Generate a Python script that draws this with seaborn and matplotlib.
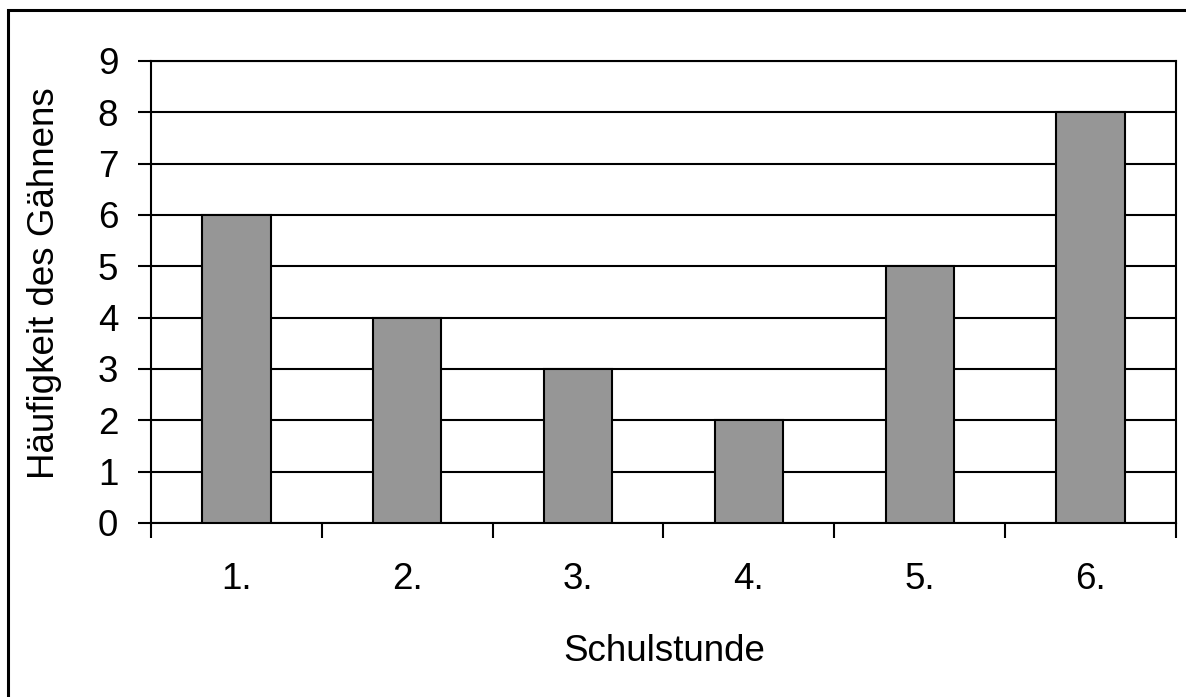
import matplotlib
matplotlib.use("Agg")
import matplotlib.pyplot as plt
import seaborn as sns
import pandas as pd
from matplotlib.patches import Rectangle

categories = ["1.", "2.", "3.", "4.", "5.", "6."]
values = [6, 4, 3, 2, 5, 8]
y_ticks = [0, 1, 2, 3, 4, 5, 6, 7, 8, 9]

sns.set_style("white")
plt.rcParams['font.family'] = ['Liberation Sans', 'DejaVu Sans']
plt.rcParams['text.color'] = 'black'
plt.rcParams['xtick.color'] = 'black'
plt.rcParams['ytick.color'] = 'black'
plt.rcParams['xtick.labelcolor'] = 'black'
plt.rcParams['ytick.labelcolor'] = 'black'

FS = 26.5

df = pd.DataFrame({"Schulstunde": categories, "Wert": values})

fig = plt.figure(figsize=(11.86, 6.97), dpi=100)
W, H = 1186, 697
ax = fig.add_axes([151 / W, 1 - 523 / H, (1176 - 151) / W, (523 - 61) / H])

ax.set_axisbelow(True)
ax.yaxis.grid(True, color="black", linewidth=1.5)
sns.barplot(data=df, x="Schulstunde", y="Wert", ax=ax, color="#969696",
            saturation=1, width=0.4, edgecolor="black", linewidth=1.5, zorder=3)

ax.set_xlim(-0.5, len(categories) - 0.5)
ax.set_ylim(0, 9)
ax.set_yticks(y_ticks)
ax.set_yticklabels([str(t) for t in y_ticks])
ax.set_xlabel("")
ax.set_ylabel("")

ax.set_xticks(range(len(categories)))
ax.set_xticklabels(categories)
ax.set_xticks([i - 0.5 for i in range(len(categories) + 1)], minor=True)
ax.tick_params(axis="x", which="major", length=0, labelsize=FS, pad=28,
               labelcolor="black")
ax.tick_params(axis="x", which="minor", length=11, width=1.5, color="black",
               direction="out", bottom=True)
ax.tick_params(axis="y", which="major", length=9.5, width=1.5, color="black",
               direction="out", left=True, labelsize=FS, pad=14,
               labelcolor="black")

for side in ["left", "right", "bottom", "top"]:
    ax.spines[side].set_visible(True)
    ax.spines[side].set_color("black")
    ax.spines[side].set_linewidth(1.5)

fig.text(45 / W, 1 - 283 / H, "Häufigkeit des Gähnens", rotation=90,
         ha="center", va="center", fontsize=FS, color="black")
fig.text(664 / W, 1 - 661 / H, "Schulstunde", ha="center", va="baseline",
         fontsize=FS, color="black")

fig.patches.append(Rectangle((7.5 / W, -0.2), 1.3, 1.2 - 9.5 / H,
                             transform=fig.transFigure, fill=False,
                             edgecolor="black", linewidth=2.2))

fig.savefig("out.png", dpi=100)
